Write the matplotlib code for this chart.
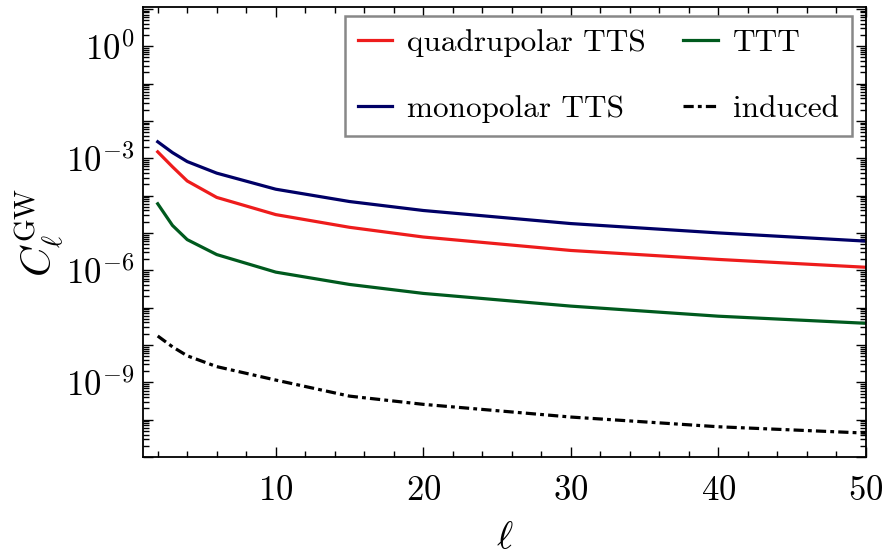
import numpy as np
import matplotlib
matplotlib.use("Agg")
import matplotlib.pyplot as plt
from matplotlib.ticker import LogLocator, FuncFormatter, MultipleLocator, NullFormatter

plt.rcParams['font.family'] = 'serif'
plt.rcParams['font.serif'] = ['cmr10']
plt.rcParams['mathtext.fontset'] = 'cm'
plt.rcParams['axes.formatter.use_mathtext'] = True

ell = [2, 3, 4, 6, 10, 15, 20, 30, 40, 50]
log_quad = [-2.83, -3.23, -3.61, -4.05, -4.51, -4.85, -5.11, -5.47, -5.71, -5.92]
log_mono = [-2.56, -2.85, -3.09, -3.40, -3.83, -4.16, -4.40, -4.75, -5.00, -5.22]
log_ttt = [-4.22, -4.80, -5.18, -5.58, -6.05, -6.38, -6.62, -6.96, -7.23, -7.42]
log_ind = [-7.76, -8.05, -8.29, -8.58, -8.94, -9.37, -9.59, -9.93, -10.19, -10.36]

labels = ['quadrupolar TTS', 'monopolar TTS', 'TTT', 'induced']
colors = ['#ee1c1c', '#000066', '#005a1e', 'black']

fig = plt.figure(figsize=(8.88, 5.58), dpi=100)
ax = fig.add_axes([0.161, 0.181, 0.814, 0.806])

series = [log_quad, log_mono, log_ttt, log_ind]
for s, lab, c in zip(series, labels, colors):
    y = 10.0 ** np.array(s)
    if lab == 'induced':
        ax.plot(ell, y, color=c, lw=2.3, ls=(0, (3.2, 1.3, 1.2, 1.3)), label=lab)
    else:
        ax.plot(ell, y, color=c, lw=2.3, label=lab)

ax.set_yscale('log')
ax.set_xlim(1, 50)
ax.set_ylim(1e-11, 1.1e1)

ax.xaxis.set_major_locator(MultipleLocator(10))
ax.xaxis.set_minor_locator(MultipleLocator(2))
ax.yaxis.set_major_locator(LogLocator(base=10, numticks=30))
ax.yaxis.set_minor_locator(LogLocator(base=10, subs=np.arange(2, 10), numticks=30))
ax.yaxis.set_minor_formatter(NullFormatter())

def yfmt(v, pos):
    e = int(round(np.log10(v)))
    if e % 3 == 0:
        return r'$10^{%d}$' % e
    return ''
ax.yaxis.set_major_formatter(FuncFormatter(yfmt))

ax.tick_params(which='both', direction='in', top=True, right=True, labelsize=25, width=1.0)
ax.tick_params(which='major', length=7)
ax.tick_params(which='minor', length=4)
ax.tick_params(axis='x', which='major', pad=13)
ax.tick_params(axis='y', which='major', pad=6)
for sp in ax.spines.values():
    sp.set_linewidth(1.3)

ax.set_xlabel(r'$\ell$', fontsize=28, labelpad=10)
ax.set_ylabel(r'$C_\ell^{\rm GW}$', fontsize=30, labelpad=0)

leg = ax.legend(ncol=2, loc='upper right', bbox_to_anchor=(0.9806, 0.98), borderaxespad=0,
                fontsize=22.5, frameon=True, fancybox=False,
                edgecolor='#888888', framealpha=1, handlelength=1.1, columnspacing=1.2,
                labelspacing=1.2, handletextpad=0.48, borderpad=0.42)
leg.get_frame().set_linewidth(1.8)

fig.savefig('out.png', dpi=100)
